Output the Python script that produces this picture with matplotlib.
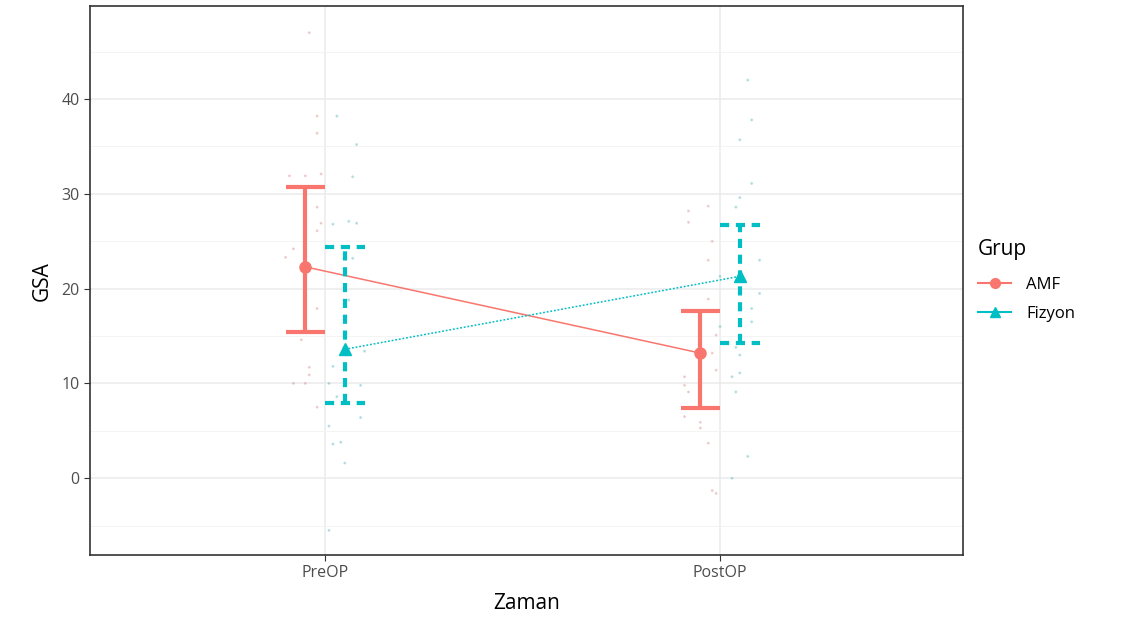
import numpy as np
import matplotlib.pyplot as plt
from matplotlib.lines import Line2D

plt.rcParams['font.family'] = ['Open Sans', 'DejaVu Sans']

zaman = ["PreOP", "PostOP"]
gruplar = ["AMF", "Fizyon"]
renkler = {"AMF": "#F8766D", "Fizyon": "#00BFC4"}

# ortalama ve hata cubugu (alt, ust)
ortalama = {"AMF": [22.3, 13.2], "Fizyon": [13.6, 21.3]}
alt = {"AMF": [15.4, 7.4], "Fizyon": [7.9, 14.3]}
ust = {"AMF": [30.7, 17.6], "Fizyon": [24.4, 26.7]}

# ham veriler (jitter ofseti, deger)
amf_pre_x = [-0.04, -0.02, -0.02, -0.09, -0.05, -0.01, -0.02, -0.01, -0.02, -0.08,
             -0.10, -0.02, -0.06, -0.04, -0.04, -0.08, -0.05, -0.02]
amf_pre_y = [47.0, 38.2, 36.4, 31.9, 31.9, 32.1, 28.6, 26.9, 26.1, 24.2,
             23.3, 17.9, 14.6, 11.7, 10.9, 10.0, 10.0, 7.5]
fiz_pre_x = [0.03, 0.08, 0.07, 0.02, 0.06, 0.08, 0.07, 0.06, 0.10, 0.02,
             0.01, 0.09, 0.03, 0.09, 0.01, 0.02, 0.04, 0.05, 0.01]
fiz_pre_y = [38.2, 35.2, 31.8, 26.8, 27.1, 26.9, 23.2, 18.8, 13.4, 11.8,
             10.0, 9.8, 8.6, 6.4, 5.5, 3.6, 3.8, 1.6, -5.5]
amf_post_x = [-0.03, -0.08, -0.08, -0.02, -0.03, -0.03, -0.01, -0.02, -0.01, -0.09,
              -0.09, -0.08, -0.09, -0.05, -0.05, -0.03, -0.02, -0.01]
amf_post_y = [28.7, 28.2, 27.0, 25.0, 23.0, 18.9, 15.1, 13.2, 11.4, 10.7,
              9.8, 9.1, 6.5, 5.9, 5.3, 3.7, -1.3, -1.6]
fiz_post_x = [0.07, 0.08, 0.05, 0.08, 0.05, 0.04, 0.10, 0.00, 0.10, 0.08,
              0.08, 0.00, 0.04, 0.05, 0.05, 0.03, 0.04, 0.07, 0.03]
fiz_post_y = [42.0, 37.8, 35.7, 31.1, 29.6, 28.6, 23.0, 21.3, 19.5, 17.9,
              16.5, 16.0, 13.8, 13.0, 11.1, 10.7, 9.1, 2.3, 0.0]

ham = {
    "AMF": [(amf_pre_x, amf_pre_y), (amf_post_x, amf_post_y)],
    "Fizyon": [(fiz_pre_x, fiz_pre_y), (fiz_post_x, fiz_post_y)],
}

fig = plt.figure(figsize=(11.33, 6.17), dpi=100)
ax = fig.add_axes([0.0794, 0.1005, 0.7706, 0.8895])

x = np.array([1, 2])
kaydir = {"AMF": -0.05, "Fizyon": 0.05}
cizgi = {"AMF": "-", "Fizyon": (0, (1.2, 1.2))}
hata_stil = {"AMF": "-", "Fizyon": (0, (2.2, 1.6))}
isaret = {"AMF": "o", "Fizyon": "^"}

# jitter noktalari (soluk)
for g in gruplar:
    c = renkler[g]
    for i, (jx, jy) in enumerate(ham[g]):
        ax.scatter(x[i] + np.array(jx), jy, s=5, color=c, alpha=0.22,
                   edgecolors="none", zorder=2)
        ax.scatter(x[i] + np.array(jx), jy, s=2, color="#888888", alpha=0.25,
                   edgecolors="none", zorder=2)

# hata cubuklari, ortalamalar ve baglanti cizgileri
for g in gruplar:
    c = renkler[g]
    xs = x + kaydir[g]
    ax.vlines(xs, alt[g], ust[g], colors=c, linewidth=3, linestyles=hata_stil[g], zorder=3)
    ax.hlines(alt[g], xs - 0.05, xs + 0.05, colors=c, linewidth=3,
              linestyles=hata_stil[g], zorder=3)
    ax.hlines(ust[g], xs - 0.05, xs + 0.05, colors=c, linewidth=3,
              linestyles=hata_stil[g], zorder=3)
    ax.plot(xs, ortalama[g], linestyle=cizgi[g], color=c, linewidth=1.1, zorder=3)
    ax.plot(xs, ortalama[g], linestyle="none", marker=isaret[g], color=c,
            markersize=8, zorder=4)

ax.set_xlim(0.405, 2.615)
ax.set_ylim(-8.1, 49.8)
ax.set_xticks(x)
ax.set_xticklabels(zaman)
ax.set_yticks([0, 10, 20, 30, 40])
ax.set_yticks([-5, 5, 15, 25, 35, 45], minor=True)
ax.grid(True, which="major", color="#EBEBEB", linewidth=1.1)
ax.grid(True, which="minor", axis="y", color="#F2F2F2", linewidth=0.6)
ax.set_axisbelow(True)
for s in ax.spines.values():
    s.set_color("#333333")
    s.set_linewidth(1.2)
ax.tick_params(axis="both", which="major", length=4, color="#333333",
               labelsize=11.5, labelcolor="#4D4D4D")
ax.tick_params(axis="y", which="minor", length=0)
ax.set_xlabel("Zaman", fontsize=15, labelpad=8)
ax.set_ylabel("GSA", fontsize=15, labelpad=6)

handles = [Line2D([], [], color=renkler[g], marker=isaret[g], linestyle="-",
                  linewidth=1.5, markersize=7) for g in gruplar]
leg = ax.legend(handles, gruplar, title="Grup", loc="center left",
                bbox_to_anchor=(1.0, 0.5), frameon=False, fontsize=12,
                title_fontsize=15, handlelength=2.0, handletextpad=0.9,
                labelspacing=0.75, borderpad=0.4)
leg._legend_box.align = "left"
leg._legend_box.sep = 12

fig.savefig("out.png", dpi=100)
